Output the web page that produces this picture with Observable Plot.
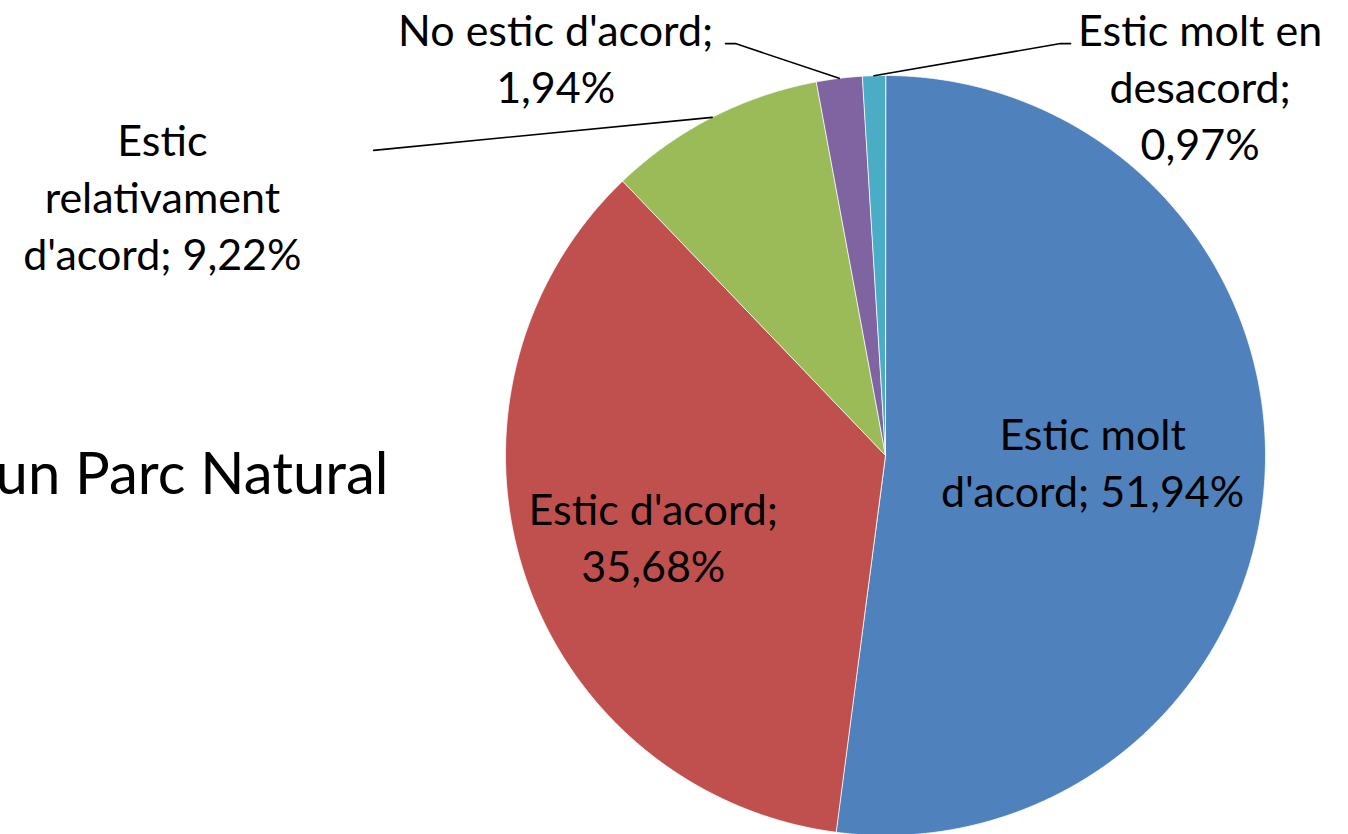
<!DOCTYPE html>
<html>
<head>
<meta charset="utf-8">
<script src="https://cdn.jsdelivr.net/npm/d3@7"></script>
<script src="https://cdn.jsdelivr.net/npm/@observablehq/plot@0.6"></script>
<style>
  html, body { margin: 0; padding: 0; background: #fff; overflow: hidden; }
  #chart svg { display: block; }
</style>
</head>
<body>
<div id="chart"></div>
<script>
// ---- Data ----
const categories = ["Estic molt d'acord", "Estic d'acord", "Estic relativament d'acord", "No estic d'acord", "Estic molt en desacord"];
const values = [51.94, 35.68, 9.22, 1.94, 0.97];
const labelTexts = [
  "Estic molt\nd'acord; 51,94%",
  "Estic d'acord;\n35,68%",
  "Estic\nrelativament\nd'acord; 9,22%",
  "No estic d'acord;\n1,94%",
  "Estic molt en\ndesacord;\n0,97%"
];
const titleFragment = "un Parc Natural";

// ---- Style / layout (in pie-radius units, centre = 0,0) ----
const colors = ["#4F81BD", "#C0504D", "#9BBB59", "#8064A2", "#4BACC6"];
const W = 1348, H = 834, R = 380, CX = 885, CY = 455;
const labelPos = [
  {x: 0.545, y: -0.012, leader: null},
  {x: -0.611, y: -0.209, leader: null},
  {x: -1.903, y: 0.686, leader: [[-1.347, 0.803]]},
  {x: -0.868, y: 1.050, leader: [[-0.395, 1.084], [-0.421, 1.084]]},
  {x: 0.828, y: 0.975, leader: [[0.461, 1.084], [0.487, 1.084]]}
];
const titlePos = {x: -1.308, y: -0.052};

// ---- Build geometry from data ----
const arcs = d3.pie().sort(null).value(d => d.value)(categories.map((name, i) => ({name, value: values[i]})));
const slicePts = [];
arcs.forEach(a => {
  const name = a.data.name;
  slicePts.push({name, x: 0, y: 0});
  const n = Math.max(2, Math.ceil((a.endAngle - a.startAngle) / (Math.PI / 720)));
  for (let k = 0; k <= n; k++) {
    const t = a.startAngle + (a.endAngle - a.startAngle) * k / n;
    slicePts.push({name, x: Math.sin(t), y: Math.cos(t)});
  }
});

const labels = arcs.map((a, i) => ({name: a.data.name, text: labelTexts[i], x: labelPos[i].x, y: labelPos[i].y}));

const leaderPts = [];
arcs.forEach((a, i) => {
  const L = labelPos[i].leader;
  if (!L) return;
  const mid = (a.startAngle + a.endAngle) / 2;
  leaderPts.push({name: a.data.name, x: Math.sin(mid), y: Math.cos(mid)});
  L.forEach(p => leaderPts.push({name: a.data.name, x: p[0], y: p[1]}));
});

const chart = Plot.plot({
  width: W,
  height: H,
  margin: 0,
  style: {fontFamily: "Lato, 'Open Sans', sans-serif", background: "#fff"},
  x: {domain: [-CX / R, (W - CX) / R], axis: null},
  y: {domain: [(CY - H) / R, CY / R], axis: null},
  color: {domain: categories, range: colors},
  marks: [
    Plot.line(slicePts, {x: "x", y: "y", z: "name", fill: "name", stroke: "#ffffff", strokeWidth: 0.8, curve: "linear-closed"}),
    Plot.line(leaderPts, {x: "x", y: "y", z: "name", stroke: "#000", strokeWidth: 1.6}),
    Plot.text(labels, {x: "x", y: "y", text: "text", fontSize: 43, lineHeight: 1.33, fill: "#000"}),
    Plot.text([titleFragment], {x: () => titlePos.x, y: () => titlePos.y, text: d => d, fontSize: 58, textAnchor: "end", fill: "#000"})
  ]
});
document.getElementById("chart").appendChild(chart);
</script>
</body>
</html>
